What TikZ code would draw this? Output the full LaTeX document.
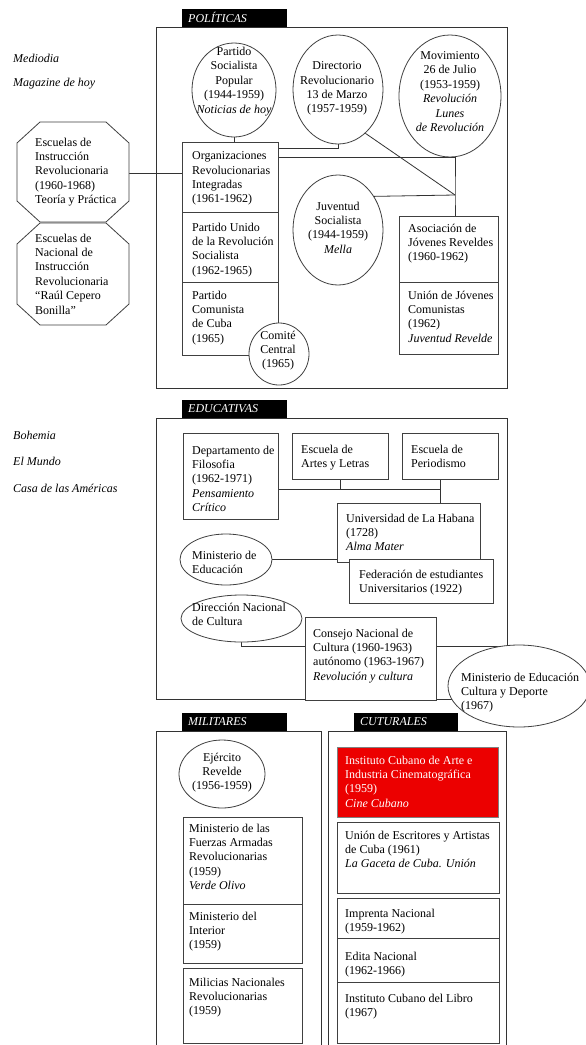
\documentclass[tikz,border=0pt]{standalone}
\usepackage{fontspec}
\setmainfont{Liberation Serif}
\usetikzlibrary{shapes.geometric,backgrounds}
\definecolor{icred}{RGB}{236,0,0}
\newcommand{\fs}{\fontsize{12}{14.4}\selectfont}
\begin{document}
\begin{tikzpicture}[x=1pt,y=-1pt,
  frame/.style={line width=1pt, draw=black!80},
  conn/.style={line width=0.8pt, draw=black!80},
  boxn/.style={draw=black!75, line width=0.8pt, fill=white, rectangle, anchor=north west, inner sep=0},
  ell/.style={draw=black!75, line width=0.8pt, fill=white, ellipse, inner sep=0},
  txt/.style={inner sep=0, align=left, anchor=north west, font=\fs},
  ctxt/.style={inner sep=0, align=center, font=\fs},
  lab/.style={fill=black, text=white, font=\fs\itshape, anchor=south west, minimum height=18, inner xsep=6, inner ysep=0, align=left},
  side/.style={anchor=base west, inner sep=0, font=\fs\itshape}
]
\useasboundingbox (0,0) rectangle (586,1045);

% ---------- side texts ----------
\node[side] (s1) at (13,62) {Mediodia};
\node[side] (s2) at (13,86) {Magazine de hoy};
\node[side] (s3) at (13,439) {Bohemia};
\node[side] (s4) at (13,465) {El Mundo};
\node[side] (s5) at (13,492) {Casa de las Américas};

% ---------- frames ----------
\draw[frame] (156,27) rectangle (507,388);
\draw[frame] (156,418) rectangle (507,699);
\draw[frame] (156,1045) -- (156,731) -- (321,731) -- (321,1045);
\draw[frame] (328,1045) -- (328,731) -- (506,731) -- (506,1045);

\node[lab, text width=93] (lpol) at (182,27) {POLÍTICAS};
\node[lab, text width=93] (ledu) at (182,418) {EDUCATIVAS};
\node[lab, text width=93] (lmil) at (182,731) {MILITARES};
\node[lab, text width=92] (lcul) at (354,731) {CUTURALES};

% ---------- POLITICAS ----------
\draw[draw=black!75, line width=0.8pt, fill=white] (40,122) -- (106,122) -- (129,143) -- (129,201) -- (106,222) -- (40,222) -- (17,201) -- (17,143) -- cycle;
\draw[draw=black!75, line width=0.8pt, fill=white] (40,223) -- (106,223) -- (129,244) -- (129,304) -- (106,325) -- (40,325) -- (17,304) -- (17,244) -- cycle;
\coordinate (o1e) at (129,173);
\node[txt] (o1t) at (35,137.5) {Escuelas de\\Instrucción\\Revolucionaria\\(1960-1968)\\Teoría y Práctica};
\node[txt] (o2t) at (35,233.5) {Escuelas de\\Nacional de\\Instrucción\\Revolucionaria\\“Raúl Cepero\\Bonilla”};

\node[ell, minimum width=84, minimum height=94] (psp) at (234,90) {};
\node[ctxt] at (234,81.5) {Partido\\Socialista\\Popular\\(1944-1959)\\\textit{Noticias de hoy}};
\node[ell, minimum width=90, minimum height=109] (dir) at (338,89.5) {};
\node[ctxt] at (337,88.5) {Directorio\\Revolucionario\\13 de Marzo\\(1957-1959)};
\node[ell, minimum width=102, minimum height=122] (mov) at (450,96) {};
\node[ctxt] at (450,91.5) {Movimiento\\26 de Julio\\(1953-1959)\\\textit{Revolución}\\\textit{Lunes}\\\textit{de Revolución}};
\node[ell, minimum width=90, minimum height=110] (juv) at (338,230) {};
\node[ctxt] at (338,227.5) {Juventud\\Socialista\\(1944-1959)\\\textit{Mella}};

\node[boxn, minimum width=96, minimum height=70] (ori) at (182,142) {};
\node[txt] at (192,151.5) {Organizaciones\\Revolucionarias\\Integradas\\(1961-1962)};
\node[boxn, minimum width=96, minimum height=70] (purs) at (182,212) {};
\node[txt] at (192,222.5) {Partido Unido\\de la Revolución\\Socialista\\(1962-1965)};
\node[boxn, minimum width=96, minimum height=73] (pcc) at (182,282) {};
\node[txt] at (192,290.5) {Partido\\Comunista\\de Cuba\\(1965)};
\node[ell, minimum width=60, minimum height=62] (com) at (279,354) {};
\node[ctxt] at (278,350.5) {Comité\\Central\\(1965)};

\node[boxn, minimum width=99, minimum height=66] (aso) at (399,216) {};
\node[txt] at (408,223.5) {Asociación de\\Jóvenes Reveldes\\(1960-1962)};
\node[boxn, minimum width=99, minimum height=72] (ujc) at (399,282) {};
\node[txt] at (408,290.5) {Unión de Jóvenes\\Comunistas\\(1962)\\\textit{Juventud Revelde}};

\coordinate (jv) at (455,195);

% ---------- EDUCATIVAS ----------
\node[boxn, minimum width=95, minimum height=86] (depto) at (183,433) {};
\node[txt] at (192,445.5) {Departamento de\\Filosofia\\(1962-1971)\\\textit{Pensamiento}\\\textit{Crítico}};
\node[boxn, minimum width=96, minimum height=46] (artes) at (292,433) {};
\node[txt] at (301,444.5) {Escuela de\\Artes y Letras};
\node[boxn, minimum width=96, minimum height=46] (perio) at (402,433) {};
\node[txt] at (411,444.5) {Escuela de\\Periodismo};
\node[boxn, minimum width=143, minimum height=59] (univ) at (337,503) {};
\node[txt] at (346,513.5) {Universidad de La Habana\\(1728)\\\textit{Alma Mater}};
\node[boxn, minimum width=144, minimum height=44] (fed) at (349,559) {};
\node[txt] at (359,569.5) {Federación de estudiantes\\Universitarios (1922)};
\node[ell, minimum width=92, minimum height=51] (mined) at (226,559.5) {};
\node[txt] at (192,550.5) {Ministerio de\\Educación};
\node[ell, minimum width=121, minimum height=47] (dnc) at (241.5,618.5) {};
\node[txt] at (192,602.5) {Dirección Nacional\\de Cultura};
\node[boxn, minimum width=131, minimum height=83] (cnc) at (305,617) {};
\node[txt] at (313,628.5) {Consejo Nacional de\\Cultura (1960-1963)\\autónomo (1963-1967)\\\textit{Revolución y cultura}};
\node[ell, minimum width=142, minimum height=82] (mecd) at (519,686) {};
\node[txt] at (461,672.5) {Ministerio de Educación\\Cultura y Deporte\\(1967)};

\coordinate (eh) at (440,489);
\coordinate (ec) at (242,646);
\coordinate (efr) at (506,646);

% ---------- MILITARES ----------
\node[ell, minimum width=86, minimum height=68] (ejer) at (222,774) {};
\node[ctxt] at (222,772.5) {Ejército\\Revelde\\(1956-1959)};
\node[boxn, minimum width=119, minimum height=87] (mfar) at (183,817) {};
\node[txt] at (189,823.5) {Ministerio de las\\Fuerzas Armadas\\Revolucionarias\\(1959)\\\textit{Verde Olivo}};
\node[boxn, minimum width=119, minimum height=59] (mint) at (183,904) {};
\node[txt] at (189,911.5) {Ministerio del\\Interior\\(1959)};
\node[boxn, minimum width=119, minimum height=75] (mil) at (183,968) {};
\node[txt] at (189,977.5) {Milicias Nacionales\\Revolucionarias\\(1959)};

% ---------- CULTURALES ----------
\node[boxn, fill=icred, draw=black!50, minimum width=161, minimum height=70] (icaic) at (337,747) {};
\node[txt, text=white] at (345,755.5) {Instituto Cubano de Arte e\\Industria Cinematográfica\\(1959)\\\textit{Cine Cubano}};
\node[boxn, minimum width=162, minimum height=71] (uneac) at (337,822) {};
\node[txt] at (345,830.5) {Unión de Escritores y Artistas\\de Cuba (1961)\\\textit{La Gaceta de Cuba. Unión}};
\node[boxn, minimum width=162, minimum height=40] (impr) at (337,898) {};
\node[txt] at (345,908.5) {Imprenta Nacional\\(1959-1962)};
\node[boxn, minimum width=162, minimum height=44] (edita) at (337,938) {};
\node[txt] at (345,951.5) {Edita Nacional\\(1962-1966)};
\node[boxn, minimum width=162, minimum height=61] (icl) at (337,982) {};
\node[txt] at (345,993.5) {Instituto Cubano del Libro\\(1967)};

% ---------- connectors ----------
\begin{pgfonlayer}{background}
\fill[white] (0,0) rectangle (586,1045);
\draw[conn] (o1e) -- (o1e -| ori.west);
\draw[conn] (psp.south) -- (psp.south |- ori.north);
\draw[conn] (ori.north east) ++(0,6) -| (dir.south);
\draw[conn] (ori.north east) ++(0,15) -| (jv) -- (jv |- aso.north);
\draw[conn] (dir.-58) -- (jv);
\draw[conn] (juv.43) -- (jv);
\draw[conn] (depto.east |- eh) -- (eh);
\draw[conn] (artes.south) -- (artes.south |- eh);
\draw[conn] (eh |- perio.south) -- (eh |- univ.north);
\draw[conn] (mined.east) -- (mined.east -| univ.west);
\draw[conn] (dnc.south) -- (dnc.south |- ec) -- (efr);
\end{pgfonlayer}
\end{tikzpicture}
\end{document}
